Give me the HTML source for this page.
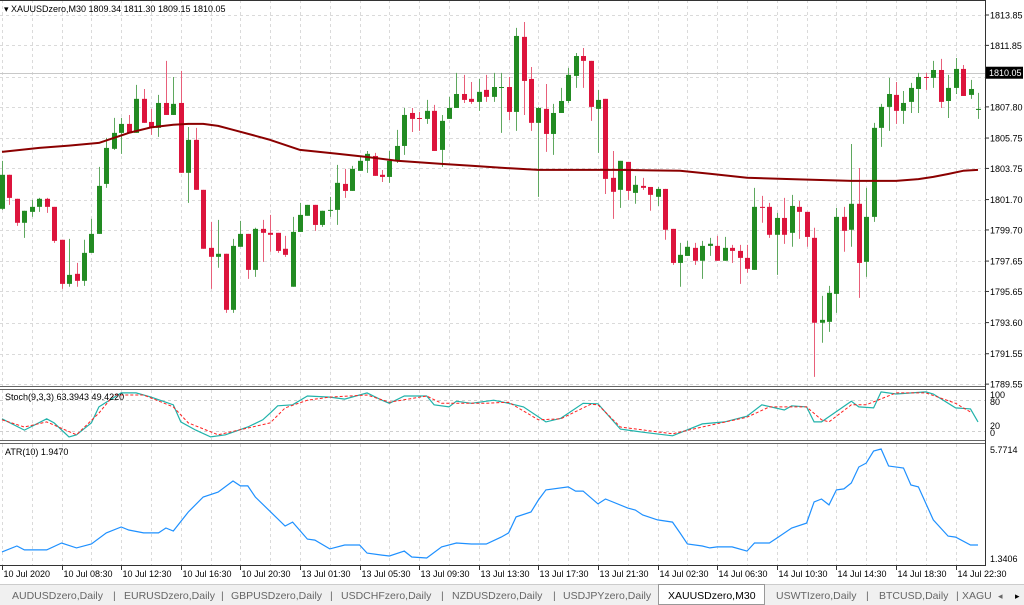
<!DOCTYPE html>
<html><head><meta charset="utf-8"><style>
html,body{margin:0;padding:0;background:#fff;width:1024px;height:605px;overflow:hidden}
svg{display:block;font-family:"Liberation Sans",sans-serif}
.t{font-size:9px;fill:#000}
.tab{font-size:10.5px;fill:#666}
</style></head><body>
<svg id="c" width="1024" height="605" viewBox="0 0 1024 605">
<rect x="0" y="0" width="1024" height="605" fill="#fff"/>
<g id="grid"></g>
<g id="main"></g>
<g id="stoch"></g>
<g id="atr"></g>
<g id="frames">
<line x1="0" y1="0.5" x2="985" y2="0.5" stroke="#333"/>
<line x1="985.5" y1="0" x2="985.5" y2="566" stroke="#333"/>
<line x1="0" y1="386.5" x2="985" y2="386.5" stroke="#666"/>
<line x1="0" y1="389.5" x2="985" y2="389.5" stroke="#666"/>
<line x1="0" y1="440.5" x2="985" y2="440.5" stroke="#666"/>
<line x1="0" y1="443.5" x2="985" y2="443.5" stroke="#666"/>
<line x1="0" y1="565.5" x2="985" y2="565.5" stroke="#333"/>
</g>
<text x="4" y="12" class="t">▾ XAUUSDzero,M30  1809.34 1811.30 1809.15 1810.05</text>
<text x="5" y="400" class="t">Stoch(9,3,3) 63.3943 49.4220</text>
<text x="5" y="455" class="t">ATR(10) 1.9470</text>
<g id="axes"></g>
<g>
<rect x="0" y="584" width="1024" height="21" fill="#f0f0f0"/>
<line x1="0" y1="584.5" x2="1024" y2="584.5" stroke="#ccc"/>
<rect x="658.5" y="584.5" width="106" height="20" fill="#fff" stroke="#999"/>
<text x="12" y="599" class="tab">AUDUSDzero,Daily</text>
<text x="113" y="599" class="tab">|</text>
<text x="124" y="599" class="tab">EURUSDzero,Daily</text>
<text x="221" y="599" class="tab">|</text>
<text x="231" y="599" class="tab">GBPUSDzero,Daily</text>
<text x="330" y="599" class="tab">|</text>
<text x="341" y="599" class="tab">USDCHFzero,Daily</text>
<text x="441" y="599" class="tab">|</text>
<text x="452" y="599" class="tab">NZDUSDzero,Daily</text>
<text x="553" y="599" class="tab">|</text>
<text x="563" y="599" class="tab">USDJPYzero,Daily</text>
<text x="668" y="599" class="tab" style="fill:#000">XAUUSDzero,M30</text>
<text x="776" y="599" class="tab">USWTIzero,Daily</text>
<text x="866" y="599" class="tab">|</text>
<text x="879" y="599" class="tab">BTCUSD,Daily</text>
<text x="956" y="599" class="tab">|</text>
<text x="962" y="599" class="tab">XAGU</text>
<text x="998" y="599" class="tab" style="font-size:9px">◂</text>
<text x="1015" y="599" class="tab" style="font-size:9px;fill:#000">▸</text>
</g>
</svg>
<script>
const opens=[1801.09,1803.33,1801.75,1800.17,1800.89,1801.22,1801.75,1801.22,1799.05,1796.15,
1796.81,1796.35,1798.19,1799.44,1802.73,1805.04,1806.09,1806.68,1806.09,1808.33,
1806.81,1806.42,1808.06,1807.27,1808.06,1803.46,1805.63,1802.34,1798.52,1797.93,
1798.13,1794.44,1798.59,1799.44,1797.07,1799.77,1799.51,1799.51,1798.46,1795.96,
1799.57,1800.63,1801.35,1800.03,1800.96,1801.02,1802.73,1802.27,1803.59,1804.25,
1804.57,1803.33,1803.19,1804.25,1805.23,1807.40,1807.07,1807.01,1807.54,1804.97,
1807.01,1807.73,1808.65,1808.33,1808.13,1808.92,1808.46,1809.05,1809.11,1807.47,
1812.41,1809.64,1806.75,1807.67,1806.02,1807.40,1808.19,1809.84,1811.15,1810.83,
1807.67,1808.33,1803.13,1802.34,1804.18,1802.14,1802.60,1802.53,1801.88,1802.40,
1799.77,1797.53,1797.99,1798.52,1797.67,1798.65,1798.65,1797.67,1798.52,1798.32,
1797.86,1797.07,1801.22,1801.22,1799.38,1800.49,1799.51,1801.22,1800.89,1799.18,
1793.59,1793.65,1795.49,1800.56,1799.71,1801.42,1797.60,1800.56,1806.42,1807.80,
1808.59,1807.54,1808.13,1808.98,1809.77,1809.71,1810.23,1808.19,1809.05,1810.30,
1808.59,1807.60];
const highs=[1804.25,1803.33,1801.75,1800.96,1801.68,1801.81,1801.81,1801.22,1799.05,1799.11,
1797.53,1799.05,1800.43,1803.85,1805.76,1807.08,1807.08,1807.27,1809.25,1808.98,
1807.67,1808.59,1810.83,1809.77,1810.17,1806.48,1806.42,1802.34,1800.23,1800.36,
1798.13,1799.11,1800.30,1799.44,1799.84,1800.36,1800.69,1799.51,1799.31,1800.56,
1801.48,1801.35,1801.35,1800.96,1801.88,1803.98,1803.72,1803.92,1804.51,1804.90,
1804.77,1803.65,1804.90,1806.29,1807.73,1807.73,1807.47,1808.26,1807.93,1807.27,
1808.46,1810.04,1809.91,1809.44,1809.64,1809.91,1810.04,1810.04,1809.77,1813.00,
1813.39,1810.43,1807.80,1809.31,1808.00,1809.05,1810.37,1811.35,1811.68,1810.83,
1808.92,1808.33,1804.90,1804.25,1804.18,1803.26,1803.13,1802.53,1802.53,1802.40,
1799.77,1798.85,1798.98,1798.85,1798.98,1799.18,1799.31,1799.24,1798.72,1798.72,
1798.72,1802.47,1801.94,1801.48,1800.82,1801.81,1802.01,1801.61,1800.89,1799.84,
1795.36,1796.02,1801.15,1801.22,1805.36,1803.78,1802.47,1806.75,1808.00,1809.71,
1809.44,1808.85,1809.38,1810.04,1810.04,1810.83,1810.96,1809.91,1811.02,1810.56,
1809.58,1808.72];
const lows=[1801.02,1801.35,1799.97,1799.18,1800.56,1800.89,1800.82,1798.85,1795.82,1795.96,
1795.96,1796.02,1798.19,1799.44,1802.47,1804.97,1804.71,1806.09,1806.09,1806.75,
1805.96,1805.83,1807.27,1807.27,1803.46,1801.48,1802.34,1798.46,1795.82,1797.21,
1794.24,1794.24,1798.59,1796.48,1796.61,1797.60,1798.26,1798.19,1797.93,1795.96,
1799.57,1800.63,1799.64,1799.90,1800.56,1800.03,1801.81,1802.27,1803.59,1803.46,
1803.26,1802.86,1802.80,1804.11,1804.64,1806.15,1806.22,1806.68,1804.90,1803.85,
1807.01,1807.73,1808.06,1808.00,1807.54,1808.13,1808.13,1806.09,1806.94,1806.22,
1807.27,1806.22,1801.88,1804.84,1804.64,1807.40,1808.06,1809.05,1809.05,1806.88,
1804.77,1802.07,1800.43,1801.15,1801.68,1801.42,1802.34,1800.96,1801.28,1799.05,
1797.40,1795.96,1797.99,1797.40,1796.48,1797.99,1797.67,1797.67,1797.53,1796.15,
1796.88,1797.07,1800.17,1799.18,1796.74,1798.78,1798.59,1799.11,1798.59,1790.03,
1792.27,1792.99,1794.24,1798.26,1798.59,1795.23,1796.61,1800.23,1805.17,1806.22,
1806.68,1806.68,1807.40,1807.40,1808.92,1809.05,1807.73,1807.07,1808.65,1808.52,
1808.33,1807.01];
const closes=[1803.33,1801.81,1800.17,1800.96,1801.22,1801.75,1801.22,1798.98,1796.15,1796.74,
1796.35,1798.19,1799.44,1802.60,1805.10,1806.09,1806.68,1806.09,1808.33,1806.75,
1806.42,1808.06,1807.27,1808.00,1803.46,1805.63,1802.34,1798.46,1797.93,1798.13,
1794.44,1798.65,1799.44,1797.07,1799.77,1799.51,1799.38,1798.32,1798.06,1799.57,
1800.69,1801.35,1800.03,1800.96,1801.02,1802.80,1802.27,1803.72,1804.25,1804.71,
1803.26,1803.19,1804.25,1805.23,1807.27,1807.01,1807.01,1807.54,1804.90,1806.88,
1807.73,1808.65,1808.26,1808.13,1808.79,1808.46,1809.11,1809.11,1807.47,1812.47,
1809.51,1806.75,1807.73,1806.02,1807.40,1808.19,1809.91,1811.15,1810.83,1807.80,
1808.26,1803.06,1802.21,1804.25,1802.27,1802.67,1802.47,1802.01,1802.40,1799.71,
1797.53,1798.06,1798.59,1797.67,1798.65,1798.79,1797.67,1798.52,1798.32,1797.86,
1797.14,1801.22,1801.15,1799.38,1800.49,1799.38,1801.28,1800.89,1799.24,1793.59,
1793.78,1795.56,1800.56,1799.64,1801.42,1797.53,1800.56,1806.42,1807.80,1808.65,
1807.54,1808.06,1809.05,1809.77,1809.71,1810.23,1808.13,1809.05,1810.30,1808.52,
1808.98,1807.67];
const maIdx=[0,5,9,13,17,20,23,25,27,29,31,34,36,38,40,45,49,53,59,63,67,72,78,83,87,91,95,100,107,114,120,123,125,127,129,131];
const maVal=[1804.84,1805.10,1805.25,1805.43,1806.09,1806.45,1806.62,1806.68,1806.68,1806.55,1806.29,1805.90,1805.63,1805.30,1804.97,1804.71,1804.50,1804.25,1804.05,1803.92,1803.79,1803.65,1803.65,1803.65,1803.62,1803.59,1803.40,1803.13,1803.03,1802.93,1802.93,1803.05,1803.19,1803.38,1803.59,1803.65];
const stIdx=[0,3,6,7,9,10,12,13,16,18,20,23,24,26,28,30,33,35,36,37,39,41,44,46,49,51,52,54,57,58,60,61,63,66,68,70,73,75,78,80,83,84,86,90,94,97,100,102,105,106,108,109,110,114,115,117,118,120,124,125,128,130,131];
const stMain=[43,21,43,35,8,12,35,66,93,93,85,70,37,21,8,12,27,41,54,68,70,87,85,81,93,79,73,87,87,70,66,77,73,79,73,66,37,44,73,72,23,21,17,10,33,37,48,70,60,68,66,37,37,77,66,64,95,91,95,91,64,62,37];
const sgIdx=[0,3,6,10,13,15,19,23,25,29,36,38,41,44,49,52,57,59,65,68,72,75,79,80,83,90,94,100,103,108,110,111,114,116,120,124,128,130];
const stSignal=[41,27,37,12,54,89,89,66,35,12,35,64,79,85,89,75,87,73,73,75,41,43,71,70,27,14,27,46,66,66,41,37,70,70,93,93,73,56];
const atrIdx=[0,2,3,6,8,10,12,14,16,17,19,21,22,23,25,27,29,31,32,33,34,38,39,41,42,44,46,48,49,51,52,54,55,57,59,61,63,65,67,68,69,71,72,73,76,77,78,80,81,84,85,86,88,90,91,92,94,95,96,98,100,101,103,104,106,108,109,110,111,112,113,114,115,116,117,118,119,121,122,123,125,127,128,130,131];
const atrVal=[1.59,1.83,1.67,1.67,1.95,1.75,1.91,2.36,2.60,2.48,2.36,2.36,2.56,2.44,3.21,3.82,4.02,4.47,4.27,4.27,3.82,2.64,2.80,2.11,2.07,1.71,1.87,1.87,1.54,1.46,1.42,1.62,1.38,1.34,1.79,1.95,1.91,1.91,2.19,2.36,3.01,3.21,3.70,4.11,4.23,4.06,4.06,3.54,3.74,3.37,3.29,3.09,2.89,2.80,2.36,1.91,1.83,1.75,1.79,1.79,1.62,1.95,1.95,2.15,2.56,2.76,3.62,3.74,3.50,4.11,4.15,4.39,5.04,5.20,5.69,5.77,5.08,5.00,4.31,4.23,2.89,2.23,2.19,1.87,1.87];
const priceTicks=[1813.85,1811.85,1807.80,1805.75,1803.75,1801.70,1799.70,1797.65,1795.65,1793.60,1791.55,1789.55];
const gridPrices=[1813.85,1811.85,1809.80,1807.80,1805.75,1803.75,1801.70,1799.70,1797.65,1795.65,1793.60,1791.55,1789.55];
const timeLabels=["10 Jul 2020","10 Jul 08:30","10 Jul 12:30","10 Jul 16:30","10 Jul 20:30","13 Jul 01:30","13 Jul 05:30","13 Jul 09:30","13 Jul 13:30","13 Jul 17:30","13 Jul 21:30","14 Jul 02:30","14 Jul 06:30","14 Jul 10:30","14 Jul 14:30","14 Jul 18:30","14 Jul 22:30"];
const lastPrice=1810.05;

const NS="http://www.w3.org/2000/svg";
function mk(tag,attrs,parent){const e=document.createElementNS(NS,tag);for(const k in attrs)e.setAttribute(k,attrs[k]);parent.appendChild(e);return e;}
const X=i=>2+i*7.45;
const Y=p=>15+(1813.85-p)*15.19;
const YS=v=>441-v*0.517;
const YA=v=>558-(v-1.3406)*(109/4.4308);
const grid=document.getElementById('grid'),main=document.getElementById('main'),st=document.getElementById('stoch'),at=document.getElementById('atr'),axes=document.getElementById('axes');

for(let i=0;i<=132;i+=4){
  const x=Math.round(X(i))+0.5;
  for(const [a,b] of [[0,386],[390,440],[444,565]]){
    const l=mk('line',{x1:x,y1:a,x2:x,y2:b,stroke:'#dadada','stroke-dasharray':'3,3'},grid);
    
    
  }
}
gridPrices.forEach(p=>{
  const y=Math.round(Y(p))+0.5;
  const l=mk('line',{x1:0,y1:y,x2:985,y2:y,stroke:'#dadada','stroke-dasharray':'3,3'},grid);
  
  
});
[80,20].forEach(v=>{
  const y=Math.round(YS(v))+0.5;
  const l=mk('line',{x1:0,y1:y,x2:985,y2:y,stroke:'#cfcfcf','stroke-dasharray':'3,3'},grid);
  
  
});
{const y=Math.round(Y(lastPrice))+0.5;
const l=mk('line',{x1:0,y1:y,x2:985,y2:y,stroke:'#c8c8c8'},grid);

}

for(let i=0;i<opens.length;i++){
  const o=opens[i],h=highs[i],l=lows[i],c=closes[i];
  const up=c>=o, col=up?'#228b22':'#dc143c', x=Math.round(X(i));
  const w=mk('line',{x1:x+0.5,y1:Y(h),x2:x+0.5,y2:Y(l),stroke:up?'#5fa85f':'#e8607a'},main);
  
  
  const top=Y(Math.max(o,c)),bot=Y(Math.min(o,c));
  const b=mk('rect',{x:x-2,y:top,width:5,height:Math.max(1,bot-top),fill:col},main);
  
  
}
{let d='';maIdx.forEach((i,k)=>{d+=(k?'L':'M')+X(i).toFixed(1)+','+Y(maVal[k]).toFixed(1);});
const p=mk('path',{d:d,fill:'none',stroke:'#8b0000','stroke-width':2,'stroke-linejoin':'round'},main);

}
{let d='';stIdx.forEach((i,k)=>{d+=(k?'L':'M')+X(i).toFixed(1)+','+YS(stMain[k]).toFixed(1);});
const p=mk('path',{d:d,fill:'none',stroke:'#20b2aa','stroke-width':1.2},st);


let d2='';sgIdx.forEach((i,k)=>{d2+=(k?'L':'M')+X(i).toFixed(1)+','+YS(stSignal[k]).toFixed(1);});
const q=mk('path',{d:d2,fill:'none',stroke:'#ff2020','stroke-width':1,'stroke-dasharray':'3,2'},st);

}
{let d='';atrIdx.forEach((i,k)=>{d+=(k?'L':'M')+X(i).toFixed(1)+','+YA(atrVal[k]).toFixed(1);});
const p=mk('path',{d:d,fill:'none',stroke:'#1e90ff','stroke-width':1.2},at);

}

priceTicks.forEach(p=>{
  const y=Y(p);
  const t=mk('line',{x1:985,y1:y,x2:989,y2:y,stroke:'#333'},axes);
  
  
  const tx=mk('text',{x:990,y:y+3.5,class:'t'},axes);tx.textContent=p.toFixed(2);
  
  
});
{const y=Y(lastPrice);
const r=mk('rect',{x:986,y:y-6,width:37,height:12,fill:'#000'},axes);


const tx=mk('text',{x:989,y:y+3.5,class:'t',style:'fill:#fff'},axes);tx.textContent=lastPrice.toFixed(2);

}
[[100,398],[80,405],[20,429],[0,436]].forEach(([v,y])=>{
  const tx=mk('text',{x:990,y:y,class:'t'},axes);tx.textContent=String(v);
  
  
});
[['5.7714',453],['1.3406',562]].forEach(([v,y])=>{
  const tx=mk('text',{x:990,y:y,class:'t'},axes);tx.textContent=v;
  
  
});
timeLabels.forEach((s,k)=>{
  const x=Math.round(X(k*8))+0.5;
  const t=mk('line',{x1:x,y1:565,x2:x,y2:570,stroke:'#333'},axes);
  
  
  const tx=mk('text',{x:x+1,y:577,class:'t'},axes);tx.textContent=s;
  
  
});
</script>
</body></html>
